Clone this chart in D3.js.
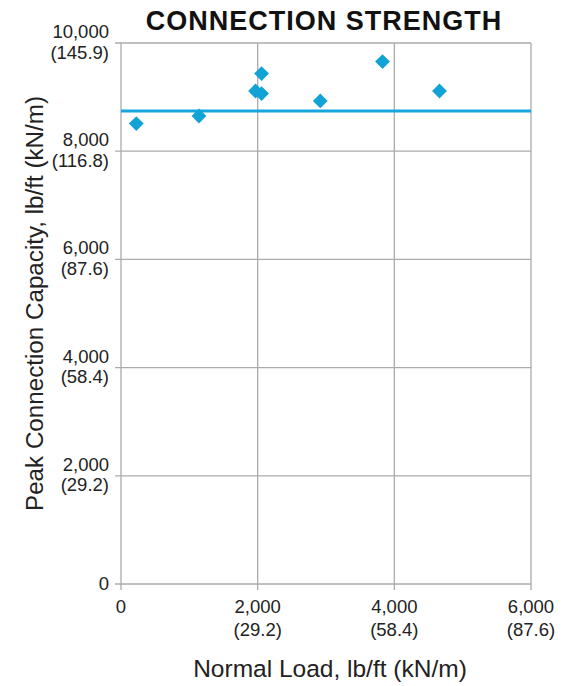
<!DOCTYPE html>
<html><head><meta charset="utf-8">
<script src="https://cdn.jsdelivr.net/npm/d3@7"></script>
<style>body{margin:0;background:#fff}svg{display:block}</style>
</head><body>
<svg id="c" width="566" height="686"></svg>
<script>
const normalLoad = [224, 1141, 1969, 2057, 2057, 2916, 3827, 4661];
const peakCapacity = [8511, 8651, 9113, 9435, 9065, 8929, 9656, 9113];
const referenceLine = 8744;
const xTicks = [0, 2000, 4000, 6000];
const xTickMetric = ["", "(29.2)", "(58.4)", "(87.6)"];
const yTicks = [0, 2000, 4000, 6000, 8000, 10000];
const yTickMetric = ["", "(29.2)", "(58.4)", "(87.6)", "(116.8)", "(145.9)"];
const title = "CONNECTION STRENGTH";
const xTitle = "Normal Load, lb/ft (kN/m)";
const yTitle = "Peak Connection Capacity, lb/ft (kN/m)";

const svg = d3.select("#c");
const font = "'Liberation Sans', Arial, Helvetica, sans-serif";
const L = 121, R = 531, T = 43, B = 584;
const x = d3.scaleLinear().domain([0, 6000]).range([L, R]);
const y = d3.scaleLinear().domain([0, 10000]).range([B, T]);
const grid = "#ababab";
const fmt = d3.format(",");

// grid
svg.append("g").selectAll("line").data(xTicks).join("line")
  .attr("x1", d => x(d)).attr("x2", d => x(d)).attr("y1", T).attr("y2", B + 6)
  .attr("stroke", grid).attr("stroke-width", 1.3);
svg.append("g").selectAll("line").data(yTicks).join("line")
  .attr("x1", L - 6).attr("x2", R).attr("y1", d => y(d)).attr("y2", d => y(d))
  .attr("stroke", grid).attr("stroke-width", 1.3);

// y tick labels
const yl = svg.append("g").attr("font-family", font).attr("font-size", 18.5).attr("fill", "#222").attr("text-anchor", "end");
yTicks.forEach((d, i) => {
  if (yTickMetric[i]) {
    yl.append("text").attr("x", 109).attr("y", y(d) - 5).text(fmt(d));
    yl.append("text").attr("x", 109).attr("y", y(d) + 15.5).text(yTickMetric[i]);
  } else {
    yl.append("text").attr("x", 109).attr("y", y(d) + 6).text(fmt(d));
  }
});
// x tick labels
const xl = svg.append("g").attr("font-family", font).attr("font-size", 18.5).attr("fill", "#222").attr("text-anchor", "middle");
xTicks.forEach((d, i) => {
  xl.append("text").attr("x", x(d)).attr("y", 613).text(fmt(d));
  if (xTickMetric[i]) xl.append("text").attr("x", x(d)).attr("y", 636).text(xTickMetric[i]);
});

// reference line
svg.append("line").attr("x1", x(0)).attr("x2", x(6000))
  .attr("y1", y(referenceLine)).attr("y2", y(referenceLine))
  .attr("stroke", "#14a6dc").attr("stroke-width", 3);

// points
const sym = d3.symbol().type(d3.symbolSquare).size(110);
svg.append("g").selectAll("path").data(normalLoad.map((v, i) => [v, peakCapacity[i]])).join("path")
  .attr("d", sym)
  .attr("transform", d => `translate(${x(d[0])},${y(d[1])}) rotate(45)`)
  .attr("fill", "#12a3d6");

// titles
svg.append("text").attr("x", 324).attr("y", 30).attr("text-anchor", "middle")
  .attr("font-family", font).attr("font-size", 27).attr("font-weight", "bold")
  .attr("letter-spacing", 1).attr("fill", "#111").text(title);
svg.append("text").attr("x", 330).attr("y", 677).attr("text-anchor", "middle")
  .attr("font-family", font).attr("font-size", 24.5).attr("fill", "#222").text(xTitle);
svg.append("text").attr("transform", "translate(43,303.5) rotate(-90)").attr("text-anchor", "middle")
  .attr("font-family", font).attr("font-size", 24.2).attr("fill", "#222").text(yTitle);
</script>
</body></html>
